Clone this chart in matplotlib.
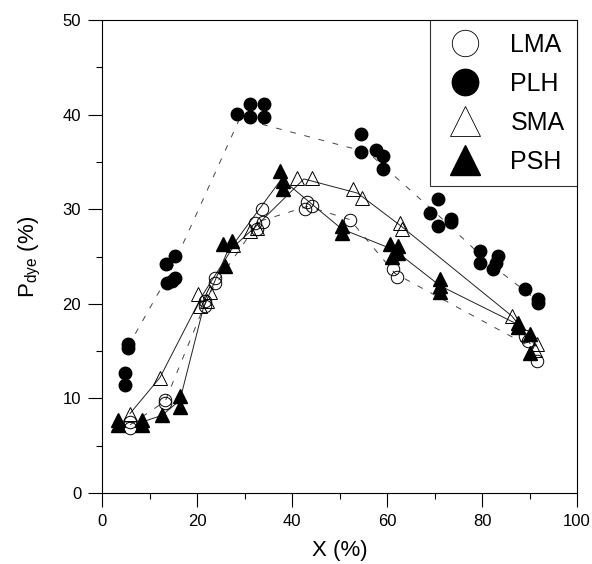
import matplotlib
matplotlib.use('Agg')
import matplotlib.pyplot as plt
from matplotlib.lines import Line2D

plt.rcParams['font.family'] = ['Liberation Sans', 'DejaVu Sans']

# replicate points (X %, Pdye %)
lma_x = [5.9, 5.9, 13.3, 13.3, 21.7, 21.7, 23.8, 23.8, 33.7, 33.9, 32.2, 32.6,
         43.1, 42.7, 44.2, 52.2, 61.3, 62.0, 89.0, 89.7, 91.6]
lma_y = [6.9, 7.5, 9.8, 9.5, 20.3, 19.8, 22.7, 22.2, 30.0, 28.7, 28.5, 27.9,
         30.8, 30.0, 30.3, 28.9, 23.7, 22.8, 16.6, 16.1, 14.0]

plh_x = [5.5, 5.5, 4.8, 4.8, 13.4, 13.6, 14.7, 15.4, 15.4, 28.4, 31.2, 31.2,
         34.1, 34.1, 54.5, 54.5, 57.7, 59.2, 59.2, 69.1, 70.7, 70.7, 73.4,
         73.4, 79.6, 79.6, 83.4, 82.4, 83.0, 89.0, 91.8, 91.8]
plh_y = [15.8, 15.3, 12.7, 11.4, 24.2, 22.2, 22.4, 25.1, 22.7, 40.1, 41.1, 39.8,
         41.1, 39.7, 37.9, 36.0, 36.3, 35.6, 34.3, 29.6, 31.1, 28.2, 28.7,
         29.0, 25.6, 24.3, 25.1, 23.7, 24.3, 21.6, 20.5, 20.1]

sma_x = [5.9, 12.2, 20.2, 20.6, 22.1, 22.7, 27.6, 31.2, 32.6, 41.0, 44.2,
         52.9, 54.7, 62.7, 63.2, 86.3, 91.6, 91.2]
sma_y = [8.4, 12.2, 21.0, 19.8, 20.3, 21.2, 26.2, 27.7, 28.0, 33.3, 33.3,
         32.1, 31.2, 28.5, 27.9, 18.7, 15.8, 15.1]

psh_x = [3.4, 3.4, 8.4, 8.4, 12.6, 16.4, 16.4, 25.5, 27.3, 25.9, 37.5, 38.1,
         38.1, 50.5, 50.5, 60.6, 62.3, 62.3, 61.0, 71.2, 71.2, 71.2, 87.6,
         87.6, 90.1, 90.1]
psh_y = [7.7, 7.2, 7.7, 7.2, 8.2, 10.3, 9.1, 26.3, 26.6, 24.0, 34.0, 33.0,
         32.1, 28.2, 27.5, 26.3, 26.1, 25.4, 24.9, 22.6, 21.9, 21.2, 18.0,
         17.5, 16.8, 14.8]

# connecting curves
lma_lx = [5.9, 13.3, 22.5, 33.0, 43.3, 52.2, 61.7, 90.0]
lma_ly = [7.2, 9.7, 21.0, 28.7, 30.3, 28.9, 23.2, 15.5]
plh_lx = [5.5, 14.3, 29.0, 56.0, 70.5, 81.5, 90.5]
plh_ly = [15.5, 23.3, 39.6, 36.0, 29.5, 24.3, 20.8]
sma_lx = [5.9, 12.2, 21.0, 27.6, 32.0, 42.5, 53.8, 63.0, 86.3, 91.4]
sma_ly = [8.4, 12.2, 20.8, 26.0, 28.0, 33.2, 31.7, 28.2, 18.7, 15.5]
psh_lx = [3.4, 8.4, 12.6, 16.4, 21.3, 26.2, 37.8, 50.5, 61.5, 71.2, 87.6, 90.1]
psh_ly = [7.5, 7.5, 8.2, 9.8, 19.5, 25.3, 33.2, 27.9, 25.7, 21.9, 17.8, 15.8]

fig = plt.figure(figsize=(5.92, 5.64), dpi=100)
ax = fig.add_axes([0.1723, 0.1259, 0.8024, 0.8386])

dash = dict(color='#444444', lw=0.7, ls=(0, (6, 9)))
solid = dict(color='#222222', lw=0.7, ls='-')
ax.plot(lma_lx, lma_ly, **dash)
ax.plot(plh_lx, plh_ly, **dash)
ax.plot(sma_lx, sma_ly, **solid)
ax.plot(psh_lx, psh_ly, **solid)

ax.plot(lma_x, lma_y, 'o', ms=9, mfc='none', mec='black', mew=0.7)
ax.plot(plh_x, plh_y, 'o', ms=9, mfc='black', mec='black')
ax.plot(sma_x, sma_y, '^', ms=10, mfc='none', mec='black', mew=0.7)
ax.plot(psh_x, psh_y, '^', ms=10, mfc='black', mec='black')

ax.set_xlim(0, 100)
ax.set_ylim(0, 50)
ax.set_xticks([0, 20, 40, 60, 80, 100])
ax.set_xticks([10, 30, 50, 70, 90], minor=True)
ax.set_yticks([0, 10, 20, 30, 40, 50])
ax.set_yticks([5, 15, 25, 35, 45], minor=True)
ax.tick_params(which='major', direction='out', length=10, width=0.8,
               pad=5, labelsize=12)
ax.tick_params(which='minor', direction='out', length=4.5, width=0.8)
for s in ax.spines.values():
    s.set_linewidth(0.8)

ax.set_xlabel('X (%)', fontsize=16, labelpad=8)
ax.set_ylabel(r'P$_{\mathregular{dye}}$ (%)', fontsize=16, labelpad=14)

handles = [
    Line2D([], [], ls='none', marker='o', ms=19, mfc='none', mec='black', mew=0.6),
    Line2D([], [], ls='none', marker='o', ms=19, mfc='black', mec='black'),
    Line2D([], [], ls='none', marker='^', ms=21, mfc='none', mec='black', mew=0.6),
    Line2D([], [], ls='none', marker='^', ms=21, mfc='black', mec='black'),
]
leg = ax.legend(handles, ['LMA', 'PLH', 'SMA', 'PSH'], loc='upper right',
                fontsize=18, frameon=True, fancybox=False, borderpad=0.5,
                labelspacing=0.6, handlelength=1.8, handletextpad=0.9,
                borderaxespad=0.0)
leg.get_frame().set_edgecolor('black')
leg.get_frame().set_linewidth(0.8)

fig.savefig('out.png', dpi=100)
